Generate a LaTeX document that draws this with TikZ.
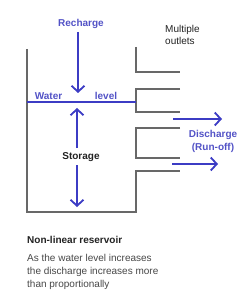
\documentclass[tikz,border=0pt]{standalone}
\usepackage{fontspec}
\setmainfont{Liberation Sans}
\usetikzlibrary{arrows.meta}
\definecolor{flowblue}{HTML}{3C3CC4}
\definecolor{labelblue}{HTML}{5252C6}
\definecolor{wallgray}{HTML}{686868}
\definecolor{textdark}{HTML}{222222}
\definecolor{textgray}{HTML}{474747}
\begin{document}
\begin{tikzpicture}[x=1pt,y=-1pt,
  wall/.style={draw=wallgray,line width=1.3pt},
  flow/.style={draw=flowblue,line width=1.8pt,-{Straight Barb[length=6pt,width=13pt]}},
  levelline/.style={draw=flowblue,line width=1.8pt},
  bluelabel/.style={font=\bfseries\fontsize{10}{12}\selectfont,text=labelblue,inner sep=0pt,anchor=base},
  darklabel/.style={font=\bfseries\fontsize{10}{12}\selectfont,text=textdark,inner sep=0pt,anchor=base},
  plainlabel/.style={font=\fontsize{10}{12}\selectfont,text=textdark,inner sep=0pt,anchor=base west},
  bodytext/.style={font=\fontsize{10}{12}\selectfont,text=textgray,inner sep=0pt,anchor=base west}
]
\useasboundingbox (0,0) rectangle (250,299);
% labels
\node[bluelabel] (recharge) at (81,27) {Recharge};
\node[bluelabel] (water) at (48.5,99.5) {Water};
\node[bluelabel] (level) at (106,99.5) {level};
\node[darklabel] (storage) at (81,159.5) {Storage};
\node[bluelabel] (discharge) at (213,137.5) {Discharge};
\node[bluelabel] (runoff) at (213,150.5) {(Run-off)};
\node[plainlabel] (multiple) at (165,32.5) {Multiple};
\node[plainlabel] (outlets) at (165,44.5) {outlets};
\node[darklabel,anchor=base west] (title) at (27,243.5) {Non-linear reservoir};
\node[bodytext] (body1) at (27,261.5) {As the water level increases};
\node[bodytext] (body2) at (27,274.5) {the discharge increases more};
\node[bodytext] (body3) at (27,287.5) {than proportionally};
% tank walls
\coordinate (lt) at (27,49);
\coordinate (lb) at (27,212);
\coordinate (rb) at (136,212);
\coordinate (o4t) at (136,171);
\coordinate (o4e) at (180,171);
\draw[wall] (lt) -- (lb) -- (rb) -- (o4t) -- (o4e);
\coordinate (o1t) at (136,47);
\coordinate (o1b) at (136,72);
\coordinate (o1e) at (180,72);
\draw[wall] (o1t) -- (o1b) -- (o1e);
\coordinate (o2s) at (180,89);
\coordinate (o2a) at (136,89);
\coordinate (o2b) at (136,112);
\coordinate (o2e) at (180,112);
\draw[wall] (o2s) -- (o2a) -- (o2b) -- (o2e);
\coordinate (o3s) at (180,128);
\coordinate (o3a) at (136,128);
\coordinate (o3b) at (136,158);
\coordinate (o3e) at (180,158);
\draw[wall] (o3s) -- (o3a) -- (o3b) -- (o3e);
% water level
\coordinate (wl) at (27,102);
\coordinate (wr) at (136,102);
\draw[levelline] (wl) -- (wr);
% arrows
\coordinate (r0) at (78,32);
\coordinate (r1) at (78,93);
\draw[flow] (r0) -- (r1);
\coordinate (u0) at (77,148);
\coordinate (u1) at (77,108);
\draw[flow] (u0) -- (u1);
\coordinate (d0) at (77,165);
\coordinate (d1) at (77,207);
\draw[flow] (d0) -- (d1);
\coordinate (q0) at (173,119);
\coordinate (q1) at (222,119);
\draw[flow] (q0) -- (q1);
\coordinate (p0) at (172,164);
\coordinate (p1) at (218,164);
\draw[flow] (p0) -- (p1);
\end{tikzpicture}
\end{document}
